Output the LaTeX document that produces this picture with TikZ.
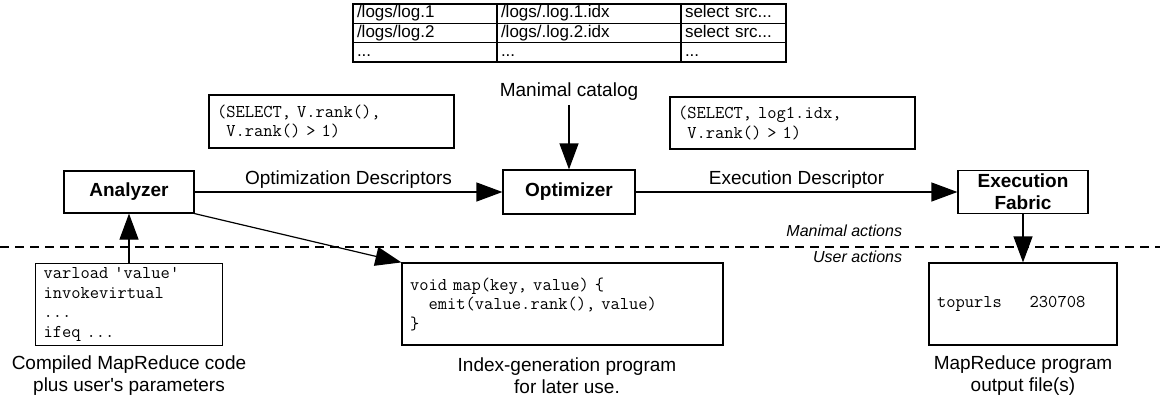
\documentclass[tikz,border=0pt]{standalone}
\usepackage{fontspec}
\setmainfont{Liberation Sans}[Ligatures=TeXOff]
\usetikzlibrary{arrows.meta,positioning}

\begin{document}
\begin{tikzpicture}[x=1pt,y=-1pt,line width=1.2pt,
	every node/.style={font=\fontsize{19pt}{22pt}\selectfont},
	box/.style={draw,rectangle,inner sep=0pt,align=center,font=\fontsize{19pt}{22pt}\selectfont\bfseries},
	code/.style={draw,rectangle,inner xsep=8pt,inner ysep=0pt,align=left,font=\fontsize{18pt}{19.5pt}\selectfont\ttfamily},
	cell/.style={draw,rectangle,inner xsep=4pt,inner ysep=0pt,minimum height=19.33pt,text height=12pt,text depth=3.5pt,align=left,font=\fontsize{17pt}{19pt}\selectfont},
	caption/.style={align=center},
	side/.style={anchor=east,font=\fontsize{16pt}{18pt}\selectfont\itshape},
	flow/.style={-{Triangle[length=26pt,width=19pt]}},
	divider/.style={dash pattern=on 9pt off 6pt}]
				\useasboundingbox (0,0) rectangle (1160,405);

				\node[cell, text width=136pt] (logA) at (425,13.67) {/logs/log.1};
				\node[cell, text width=176pt] (idxA) at (589,13.67) {/logs/.log.1.idx};
				\node[cell, text width=97pt] (srcA) at (733.5,13.67) {select src...};
				\node[cell, text width=136pt] (logB) at (425,33) {/logs/log.2};
				\node[cell, text width=176pt] (idxB) at (589,33) {/logs/.log.2.idx};
				\node[cell, text width=97pt] (srcB) at (733.5,33) {select src...};
				\node[cell, text width=136pt] (logC) at (425,52.33) {...};
				\node[cell, text width=176pt] (idxC) at (589,52.33) {...};
				\node[cell, text width=97pt] (srcC) at (733.5,52.33) {...};

				\node (catalog) at (569,92) {Manimal catalog};
				\node[code, text width=229pt, minimum height=53pt] (optdesc) at (331.5,121.5) {(SELECT, V.rank(),\\\phantom{x}V.rank() > 1)};
				\node[code, text width=229pt, minimum height=52pt] (execdesc) at (792.5,123) {(SELECT, log1.idx,\\\phantom{x}V.rank() > 1)};

				\node[box, minimum width=130pt, minimum height=42pt] (analyzer) at (129,192) {Analyzer};
				\node[box, minimum width=132pt, minimum height=44pt] (optimizer) at (569,192) {Optimizer};
				\node[box, minimum width=130pt, minimum height=43pt] (fabric) at (1023,192) {Execution\\Fabric};

				\draw[flow] (catalog) -- (optimizer);
				\draw[flow] (analyzer) -- node[above] {Optimization Descriptors} (optimizer);
				\draw[flow] (optimizer) -- node[above] {Execution Descriptor} (fabric);

				\coordinate (divL) at (0,247);
				\coordinate (divR) at (1160,247);
				\draw[divider] (divL) -- (divR);
				\node[side] (manimal) at (906,231) {Manimal actions};
				\node[side] (user) at (906,257) {User actions};

				\node[code, text width=171pt, minimum height=82pt] (input) at (129,304.5) {varload 'value'\\invokevirtual\\...\\ifeq ...};
				\node[code, text width=305pt, minimum height=82pt] (index) at (562.5,304) {void map(key, value) \{\\\phantom{xx}emit(value.rank(), value)\\\}};
				\node[code, text width=172pt, minimum height=82pt] (output) at (1023,304) {topurls\phantom{xxx}230708};

				\draw[flow] (input) -- (analyzer);
				\draw[flow] (analyzer.south east) -- (index.north west);
				\draw[flow] (fabric) -- (output);

				\node[caption] (inputcap) at (129,376) {Compiled MapReduce code\\plus user's parameters};
				\node[caption] (indexcap) at (567,376) {Index-generation program\\for later use.};
				\node[caption] (outputcap) at (1023,376) {MapReduce program\\output file(s)};
\end{tikzpicture}
\end{document}
